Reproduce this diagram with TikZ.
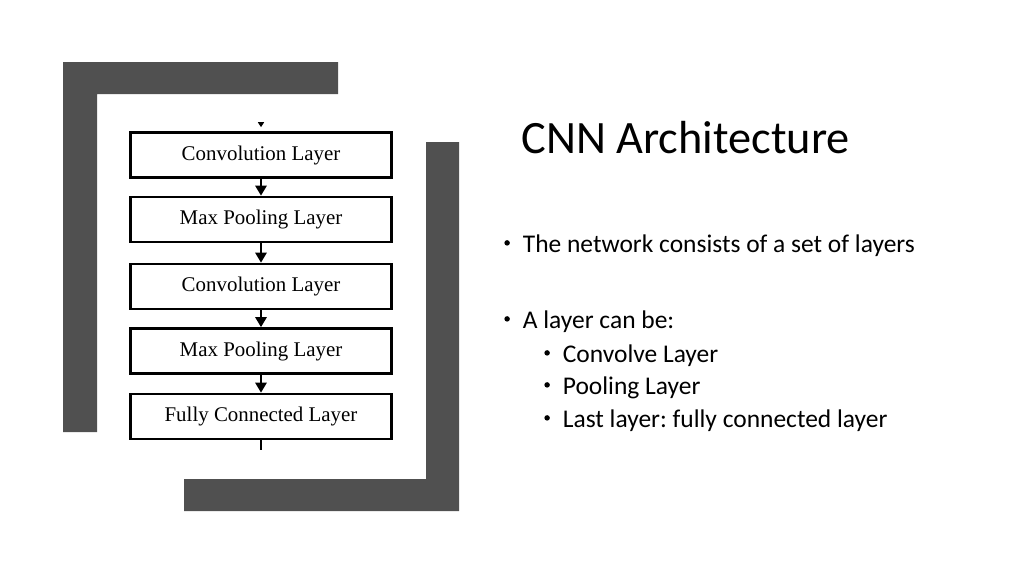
\documentclass[tikz,border=0pt]{standalone}
\usepackage{fontspec}
\setmainfont{Liberation Serif}
\newfontfamily\slidefont{Carlito}
\usetikzlibrary{arrows.meta, positioning}

\definecolor{frame}{HTML}{505050}
\newcommand{\dotmark}{\raisebox{0.25em}{\tikz\fill (0,0) circle (0.055cm);}}
\frenchspacing

\begin{document}
\begin{tikzpicture}[x=0.02cm, y=-0.02cm,
    layerbox/.style={draw, line width=1.5pt, minimum width=5.22cm, minimum height=0.9cm, inner sep=0pt, font=\fontsize{11.9}{13}\selectfont},
    flow/.style={line width=1.5pt, -{Triangle[length=0.2cm, width=0.22cm]}},
    bullet/.style={anchor=base west, inner sep=0pt, font=\slidefont\fontsize{14.5}{17}\selectfont}]
    \useasboundingbox (0,0) rectangle (1024,576);

    % Dark frame corners
    \fill[frame] (63,62) -- (338,62) -- (338,94) -- (97,94) -- (97,432) -- (63,432) -- cycle;
    \fill[frame] (426,142) -- (459,142) -- (459,511) -- (184,511) -- (184,479) -- (426,479) -- cycle;

    % Layer stack
    \node[layerbox, fill=white] (conv1) at (261,155) {Convolution Layer};
    \node[layerbox, fill=white] (pool1) at (261,219.5) {Max Pooling Layer};
    \node[layerbox, fill=white] (conv2) at (261,286.5) {Convolution Layer};
    \node[layerbox, fill=white] (pool2) at (261,351) {Max Pooling Layer};
    \node[layerbox, fill=white] (fc) at (261,416.5) {Fully Connected Layer};

    \coordinate (in) at (261,124);
    \coordinate (out) at (261,450);
    \draw[line width=0.8pt, -{Triangle[length=0.1cm, width=0.12cm]}, shorten >=0.08cm] (in) -- (conv1);
    \foreach \a/\b in {conv1/pool1, pool1/conv2, conv2/pool2, pool2/fc} {
        \draw[flow] (\a) -- (\b);
    }
    \draw[line width=1.5pt] (fc) -- (out);

    % Slide text
    \node[anchor=base west, inner sep=0pt, font=\slidefont\fontsize{26.4}{30}\selectfont] (title) at (521,153) {CNN Architecture};
    \node[bullet] (b1) at (504,252) {\dotmark\hspace{7.4pt}The network consists of a set of layers};
    \node[bullet] (b2) at (504,328) {\dotmark\hspace{7.4pt}A layer can be:};
    \node[bullet] (s1) at (544,362) {\dotmark\hspace{7.4pt}Convolve Layer};
    \node[bullet] (s2) at (544,394) {\dotmark\hspace{7.4pt}Pooling Layer};
    \node[bullet] (s3) at (544,427) {\dotmark\hspace{7.4pt}Last layer: fully connected layer};
\end{tikzpicture}
\end{document}
